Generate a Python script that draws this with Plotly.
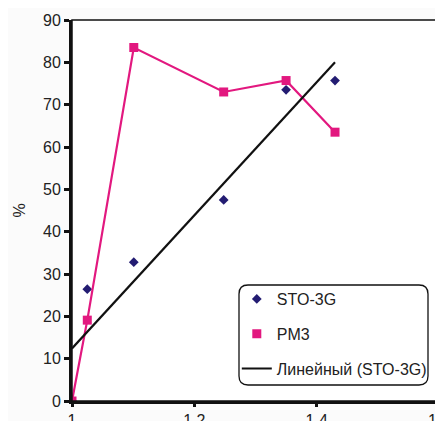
import numpy as np
import plotly.graph_objects as go

# Data
sto_x = [1.0, 1.025, 1.101, 1.248, 1.350, 1.430]
sto_y = [0.0, 26.4, 32.8, 47.5, 73.5, 75.7]
pm3_x = [1.0, 1.025, 1.101, 1.248, 1.350, 1.430]
pm3_y = [0.0, 19.1, 83.5, 73.0, 75.7, 63.5]
x_ticks = [1.0, 1.2, 1.4, 1.6]
x_tick_text = ["1", "1.2", "1.4", "1.6"]
y_ticks = [0, 10, 20, 30, 40, 50, 60, 70, 80, 90]
names = ["STO-3G", "PM3", "Линейный (STO-3G)"]

# Linear trend of STO-3G
k, b = np.polyfit(sto_x, sto_y, 1)
trend_x = [min(sto_x), max(sto_x)]
trend_y = [k * v + b for v in trend_x]

NAVY = "#231c72"
PINK = "#e2187f"
FONT = "Liberation Sans, Arial, sans-serif"

fig = go.Figure()
fig.add_trace(go.Scatter(x=sto_x, y=sto_y, mode="markers", name=names[0],
                         legendgroup="a",
                         marker=dict(symbol="diamond", size=7.5, color=NAVY)))
fig.add_trace(go.Scatter(x=pm3_x, y=pm3_y, mode="lines", name=names[1],
                         legendgroup="b", showlegend=False,
                         line=dict(color=PINK, width=2.2)))
fig.add_trace(go.Scatter(x=pm3_x, y=pm3_y, mode="markers", name=names[1],
                         legendgroup="b",
                         marker=dict(symbol="square", size=9, color=PINK)))
fig.add_trace(go.Scatter(x=trend_x, y=trend_y, mode="lines", name=names[2],
                         legendgroup="c",
                         line=dict(color="#111111", width=2.2)))

OFF = 8  # page body margin
W, H = 443, 421
# plot area in page pixels
L, R, T, B = 72, 439, 20, 401
pw, ph = R - L, B - T

def px(xp):
    return (xp - L) / pw

def py(yp):
    return (B - yp) / ph

# rounded legend box (page pixels)
bx0, bx1, by0, by1 = 239, 428, 285, 385
r = 9
rx, ry = r / pw, r / ph
X0, X1 = px(bx0), px(bx1)
Yt, Yb = py(by0), py(by1)
path = (f"M {X0+rx},{Yt} L {X1-rx},{Yt} Q {X1},{Yt} {X1},{Yt-ry} "
        f"L {X1},{Yb+ry} Q {X1},{Yb} {X1-rx},{Yb} "
        f"L {X0+rx},{Yb} Q {X0},{Yb} {X0},{Yb+ry} "
        f"L {X0},{Yt-ry} Q {X0},{Yt} {X0+rx},{Yt} Z")

fig.update_layout(
    width=W, height=H,
    margin=dict(l=L - OFF, r=W - (R - OFF), t=T - OFF, b=H - (B - OFF),
                autoexpand=False),
    paper_bgcolor="#fbfbfb",
    plot_bgcolor="white",
    font=dict(family=FONT, size=16, color="#222222"),
    showlegend=True,
    legend=dict(x=px(bx0) - 0.006, y=py(by0 - 3), xanchor="left", yanchor="top",
                bgcolor="rgba(0,0,0,0)", borderwidth=0,
                font=dict(family=FONT, size=16, color="#222222"),
                tracegroupgap=11, itemwidth=30),
    shapes=[
        dict(type="path", path=path, xref="paper", yref="paper",
             line=dict(color="#111111", width=1.3), layer="above"),
        dict(type="rect", x0=0, x1=1, y0=0, y1=1, xref="paper", yref="paper",
             line=dict(color="#111111", width=1.5), layer="above"),
    ],
    xaxis=dict(range=[1.0, 1.6], tickvals=x_ticks, ticktext=x_tick_text,
               automargin=False,
               showgrid=False, zeroline=False,
               showline=True, linecolor="#111111", linewidth=2.5,
               ticks="outside", ticklen=3, tickwidth=3, tickcolor="#111111",
               tickfont=dict(size=16)),
    yaxis=dict(range=[0, 90], tickvals=y_ticks, automargin=False,
               showgrid=False, zeroline=False,
               showline=True, linecolor="#111111", linewidth=3,
               ticks="outside", ticklen=5, tickwidth=3, tickcolor="#111111",
               tickfont=dict(size=16),
               title=dict(text="%", font=dict(size=16), standoff=14)),
)

fig.write_html("out.html")
